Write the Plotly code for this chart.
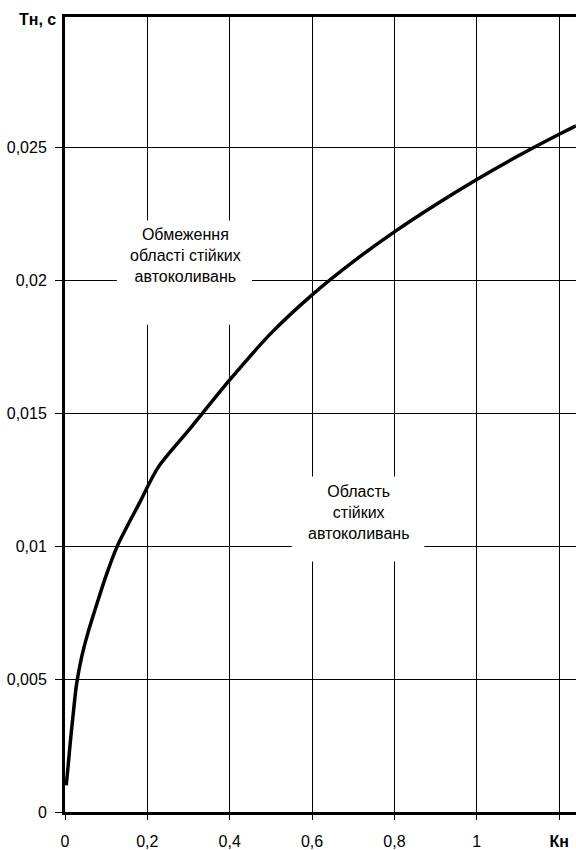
import plotly.graph_objects as go

kn = [0.003, 0.008, 0.014, 0.02, 0.028, 0.04, 0.055, 0.081, 0.1, 0.127, 0.18, 0.2266,
      0.3, 0.4, 0.5, 0.6, 0.7, 0.8, 0.9, 1.0, 1.1, 1.2, 1.241]
tn = [0.001, 0.0018, 0.0028, 0.0037, 0.0048, 0.0058, 0.0067, 0.008, 0.0089, 0.01, 0.0116,
      0.01297, 0.01435, 0.01625, 0.018, 0.01945, 0.0207, 0.02182, 0.02284, 0.02379,
      0.02467, 0.02549, 0.02581]

x_ticks = [0, 0.2, 0.4, 0.6, 0.8, 1.0, 1.2]
x_labels = ["0", "0,2", "0,4", "0,6", "0,8", "1", "<b>Кн</b>"]
y_ticks = [0, 0.005, 0.01, 0.015, 0.02, 0.025, 0.03]
y_labels = ["0", "0,005", "0,01", "0,015", "0,02", "0,025", ""]

FONT = "Liberation Sans, Arial, sans-serif"

fig = go.Figure()
fig.add_trace(go.Scatter(x=kn, y=tn, mode="lines",
                         line=dict(color="black", width=3.5, shape="spline", smoothing=0.8),
                         hoverinfo="skip", showlegend=False))

fig.update_layout(
    width=576, height=850,
    margin=dict(l=65, r=0, t=17, b=31),
    paper_bgcolor="white", plot_bgcolor="white",
    font=dict(family=FONT, size=16, color="black"),
    xaxis=dict(range=[0, 1.241], tickvals=x_ticks, ticktext=x_labels,
               showgrid=True, gridcolor="black", gridwidth=1, zeroline=False,
               showline=True, linecolor="black", linewidth=3, mirror=True,
               ticks="outside", ticklen=5, tickcolor="black", tickwidth=1,
               ticklabelstandoff=8),
    yaxis=dict(range=[0, 0.0299], tickvals=y_ticks, ticktext=y_labels,
               showgrid=True, gridcolor="black", gridwidth=1, zeroline=False,
               showline=True, linecolor="black", linewidth=3,
               ticks="outside", ticklen=7, tickcolor="black", tickwidth=1,
               ticklabelstandoff=5),
    shapes=[
        dict(type="rect", xref="x", yref="y", x0=0.126, x1=0.454, y0=0.01833, y1=0.02225,
             fillcolor="white", line=dict(width=0), layer="between"),
        dict(type="rect", xref="x", yref="y", x0=0.5506, x1=0.8727, y0=0.00942, y1=0.01262,
             fillcolor="white", line=dict(width=0), layer="between"),
    ],
    annotations=[
        dict(x=0.2915, y=0.02094, xref="x", yref="y", showarrow=False,
             text="Обмеження<br>області стійких<br>автоколивань",
             font=dict(size=16), align="center"),
        dict(x=0.7117, y=0.01125, xref="x", yref="y", showarrow=False,
             text="Область<br>стійких<br>автоколивань",
             font=dict(size=16), align="center"),
        dict(x=(58 - 65) / 511, y=1 + (17 - 20) / 802, xref="paper", yref="paper",
             showarrow=False, text="<b>Тн, с</b>", font=dict(size=16),
             xanchor="right", yanchor="middle"),
    ],
)

fig.write_html("out.html", config={"displayModeBar": False})
with open("out.html", "r", encoding="utf-8") as f:
    html = f.read()
html = html.replace("<head>", "<head><style>html,body{margin:0;padding:0;overflow:hidden;}</style>", 1)
with open("out.html", "w", encoding="utf-8") as f:
    f.write(html)
